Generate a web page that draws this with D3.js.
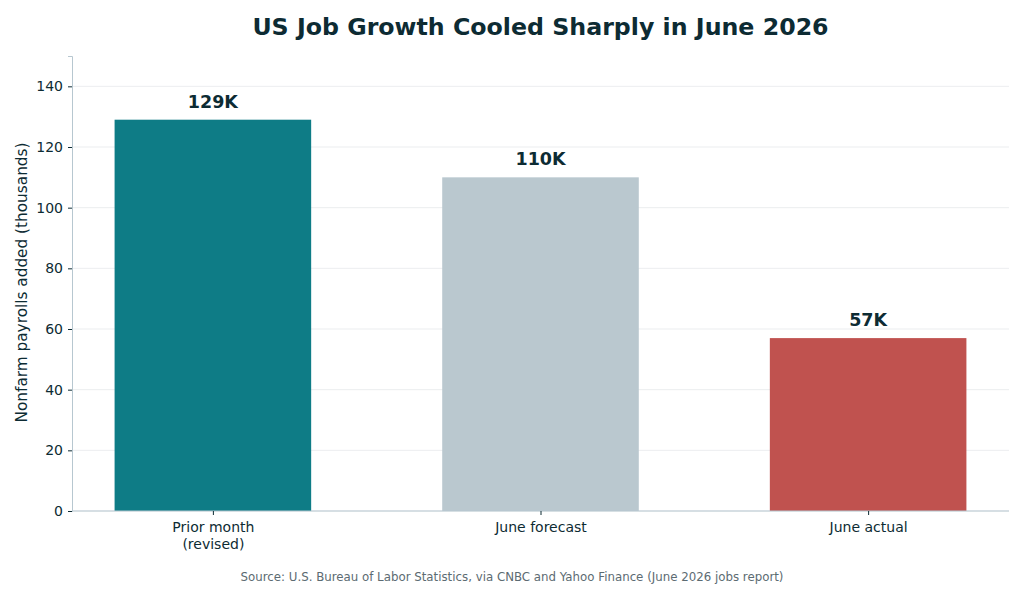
<!DOCTYPE html>
<html>
<head>
<meta charset="utf-8">
<script src="https://cdn.jsdelivr.net/npm/d3@7"></script>
<style>
  body { margin: 0; background: #fff; }
  svg { font-family: "DejaVu Sans", sans-serif; }
</style>
</head>
<body>
<div id="chart"></div>
<script>
// data
const categories = ["Prior month\n(revised)", "June forecast", "June actual"];
const values = [129, 110, 57];
const valueLabels = ["129K", "110K", "57K"];
const barColors = ["#0e7c86", "#bac8cf", "#c0524f"];
const yTicks = [0, 20, 40, 60, 80, 100, 120, 140];

const W = 1024, H = 590;
const margin = { top: 56, right: 15, bottom: 79, left: 72 };
const width = W - margin.left - margin.right;
const height = H - margin.top - margin.bottom;
const textColor = "#0d2b33";
const spineColor = "#b7c7d0";

const svg = d3.select("#chart").append("svg")
    .attr("width", W)
    .attr("height", H);

const g = svg.append("g")
    .attr("transform", `translate(${margin.left}, ${margin.top})`);

const x = d3.scaleLinear().domain([-0.43, 2.43]).range([0, width]);
const y = d3.scaleLinear().domain([0, 150]).range([height, 0]);
const barW = x(0.6) - x(0);

// grid
g.append("g").selectAll("line")
    .data(yTicks)
    .join("line")
    .attr("x1", 0).attr("x2", width)
    .attr("y1", d => y(d)).attr("y2", d => y(d))
    .attr("stroke", "#e6e9eb")
    .attr("stroke-width", 0.8);

// bars
g.append("g").selectAll("rect")
    .data(values)
    .join("rect")
    .attr("x", (d, i) => x(i) - barW / 2)
    .attr("y", d => y(d))
    .attr("width", barW)
    .attr("height", d => height - y(d))
    .attr("fill", (d, i) => barColors[i]);

// value labels
g.append("g").selectAll("text")
    .data(values)
    .join("text")
    .attr("x", (d, i) => x(i))
    .attr("y", d => y(d) - 12)
    .attr("text-anchor", "middle")
    .attr("fill", textColor)
    .style("font-size", "17.5px")
    .style("font-weight", "bold")
    .text((d, i) => valueLabels[i]);

// y axis
const yAxis = g.append("g")
    .call(d3.axisLeft(y).tickValues(yTicks).tickSize(4).tickPadding(5));
yAxis.select(".domain").attr("stroke", spineColor);
yAxis.selectAll(".tick line").attr("stroke", textColor);
yAxis.selectAll(".tick text")
    .attr("fill", textColor)
    .style("font-size", "14px")
    .style("font-family", "DejaVu Sans, sans-serif");

// x axis
const xAxis = g.append("g")
    .attr("transform", `translate(0, ${height})`)
    .call(d3.axisBottom(x).tickValues([0, 1, 2]).tickSize(4).tickFormat(""));
xAxis.select(".domain").attr("stroke", spineColor).attr("d", `M0,0H${width}`);
xAxis.selectAll(".tick line").attr("stroke", textColor);

xAxis.selectAll(".tick").each(function(d) {
    const lines = categories[d].split("\n");
    const t = d3.select(this).append("text")
        .attr("fill", textColor)
        .attr("text-anchor", "middle")
        .style("font-size", "14px")
        .style("font-family", "DejaVu Sans, sans-serif");
    lines.forEach((ln, k) => {
        t.append("tspan").attr("x", 0).attr("y", 21 + k * 17).text(ln);
    });
});

// y label
g.append("text")
    .attr("transform", `translate(${-45}, ${height / 2 - 1}) rotate(-90)`)
    .attr("text-anchor", "middle")
    .attr("fill", textColor)
    .style("font-size", "15.3px")
    .text("Nonfarm payrolls added (thousands)");

// title
svg.append("text")
    .attr("x", margin.left + width / 2)
    .attr("y", 35)
    .attr("text-anchor", "middle")
    .attr("fill", textColor)
    .style("font-size", "23.7px")
    .style("font-weight", "bold")
    .text("US Job Growth Cooled Sharply in June 2026");

// source
svg.append("text")
    .attr("x", W / 2)
    .attr("y", 581)
    .attr("text-anchor", "middle")
    .attr("fill", "#5c6b72")
    .style("font-size", "11.8px")
    .text("Source: U.S. Bureau of Labor Statistics, via CNBC and Yahoo Finance (June 2026 jobs report)");
</script>
</body>
</html>
